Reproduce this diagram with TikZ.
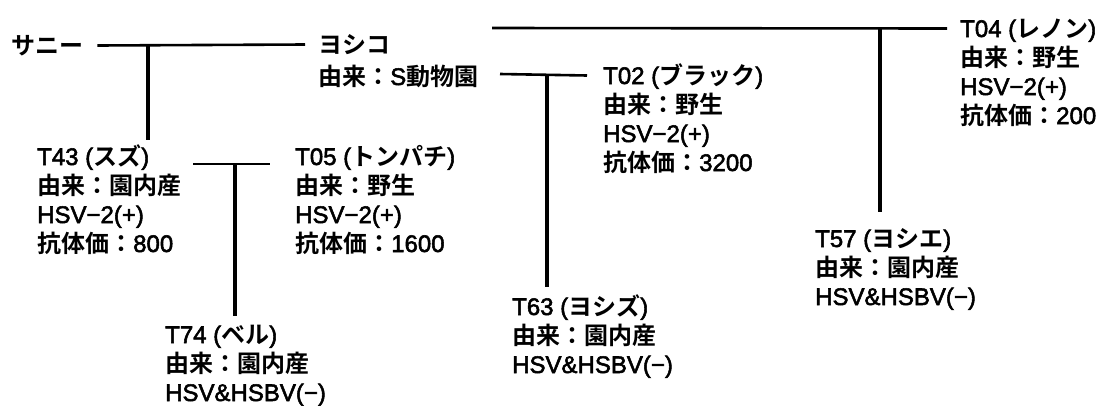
\documentclass[tikz,border=0pt]{standalone}
\usepackage{fontspec}
\setmainfont{Liberation Sans}[FakeBold=2.2]
\newfontfamily\jp{Noto Sans CJK JP}[BoldFont={Noto Sans CJK JP Bold}]
\newcommand\J[1]{{\jp\bfseries #1}}
\tikzset{
  txt/.style={anchor=base west, inner sep=0pt, text height=20pt, text depth=3pt,
    font=\fontsize{24}{29}\selectfont},
  hl/.style={line width=2.6pt, black},
  vl/.style={line width=3.2pt, black}
}
\begin{document}
\begin{tikzpicture}[x=1pt,y=-1pt]
\useasboundingbox (0,0) rectangle (1099,405);
% nodes
\node[txt] (sunny) at (11,54) {\J{サニー}};
\node[txt] (yosh1) at (318,53) {\J{ヨシコ}};
\node[txt] (yosh2) at (318,85) {\J{由来：}S\J{動物園}};

\node[txt] (t04a) at (960,37) {T04 (\J{レノン})};
\node[txt] (t04b) at (960,66) {\J{由来：野生}};
\node[txt] (t04c) at (960,95) {HSV−2(+)};
\node[txt] (t04d) at (960,124) {\J{抗体価：}200};

\node[txt] (t02a) at (603,84) {T02 (\J{ブラック})};
\node[txt] (t02b) at (603,113) {\J{由来：野生}};
\node[txt] (t02c) at (603,142) {HSV−2(+)};
\node[txt] (t02d) at (603,171) {\J{抗体価：}3200};

\node[txt] (t43a) at (37,165) {T43 (\J{スズ})};
\node[txt] (t43b) at (37,194) {\J{由来：園内産}};
\node[txt] (t43c) at (37,223) {HSV−2(+)};
\node[txt] (t43d) at (37,252) {\J{抗体価：}800};

\node[txt] (t05a) at (295,165) {T05 (\J{トンパチ})};
\node[txt] (t05b) at (295,194) {\J{由来：野生}};
\node[txt] (t05c) at (295,223) {HSV−2(+)};
\node[txt] (t05d) at (295,252) {\J{抗体価：}1600};

\node[txt] (t74a) at (165,343) {T74 (\J{ベル})};
\node[txt] (t74b) at (165,372) {\J{由来：園内産}};
\node[txt] (t74c) at (165,401) {HSV\&HSBV(−)};

\node[txt] (t63a) at (512,315) {T63 (\J{ヨシズ})};
\node[txt] (t63b) at (512,344) {\J{由来：園内産}};
\node[txt] (t63c) at (512,373) {HSV\&HSBV(−)};

\node[txt] (t57a) at (815,247) {T57 (\J{ヨシエ})};
\node[txt] (t57b) at (815,276) {\J{由来：園内産}};
\node[txt] (t57c) at (815,305) {HSV\&HSBV(−)};

% junction coordinates
\coordinate (j1) at (148,45);
\coordinate (ytop) at (492,28);
\coordinate (j3) at (880,28);
\coordinate (l2s) at (500,74);
\coordinate (j2) at (547,74);
\coordinate (l3s) at (193,164);
\coordinate (l3e) at (270,164);
\coordinate (j4) at (235,164);

% connectors
\draw[hl] ([xshift=14pt]sunny.east) -- ([xshift=-13pt]yosh1.west);
\draw[vl] (j1) -- ([yshift=5pt]j1 |- t43a.north);
\draw[hl] (ytop) -- ([xshift=-13pt]t04a.west);
\draw[vl] (j3) -- ([yshift=15pt]j3 |- t57a.north);
\draw[hl] (l2s) -- ([xshift=-16pt]t02a.west);
\draw[vl] (j2) -- ([yshift=8pt]j2 |- t63a.north);
\draw[hl] (l3s) -- (l3e);
\draw[vl] (j4) -- ([yshift=7pt]j4 |- t74a.north);
\end{tikzpicture}
\end{document}
